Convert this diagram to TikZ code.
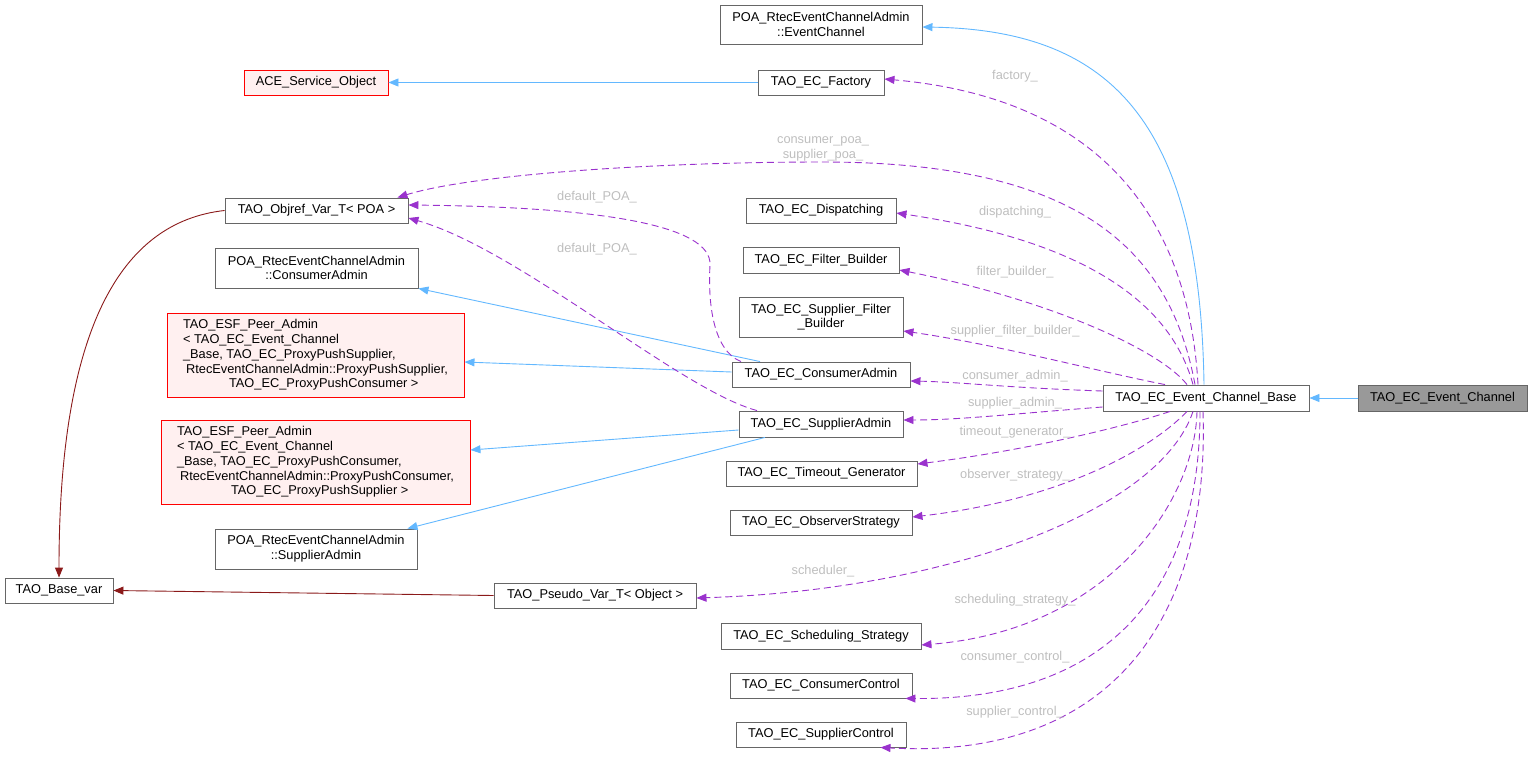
\documentclass[tikz,border=0pt]{standalone}
\usepackage{fontspec}
\setmainfont{Liberation Sans}
\usetikzlibrary{arrows.meta}

\definecolor{boxgray}{HTML}{666666}
\definecolor{redfill}{HTML}{FFF0F0}
\definecolor{curfill}{HTML}{999999}
\definecolor{inhblue}{HTML}{63B8FF}
\definecolor{tplred}{HTML}{8B1A1A}
\definecolor{usepurple}{HTML}{9A32CD}
\definecolor{lblgray}{HTML}{BEBEBE}
\newcommand{\dxsize}{\fontsize{12.8pt}{14.7pt}\selectfont}

\begin{document}
\begin{tikzpicture}[
    x=1pt, y=-1pt,
    cls/.style={rectangle, draw=boxgray, line width=0.9pt, fill=white, font=\dxsize, inner xsep=3pt, inner ysep=2pt, minimum height=25pt, align=center},
    peer/.style={cls, draw=red, fill=redfill, align=left},
    inh/.style={draw=inhblue, line width=0.9pt, -{Triangle[length=10pt,width=8pt]}},
    tpl/.style={draw=tplred, line width=0.9pt, -{Triangle[length=10pt,width=8pt]}},
    use/.style={draw=usepurple, line width=0.9pt, dash pattern=on 7pt off 4pt, -{Triangle[length=10pt,width=8pt]}},
    lbl/.style={font=\dxsize, text=lblgray, align=center}
]
\useasboundingbox (0,0) rectangle (1532,760);

% Class boxes, left column
\node[cls, peer, align=center, minimum width=144pt] (ace) at (316,82.5) {ACE\_Service\_Object};
\node[cls, minimum width=183pt] (objref) at (316.5,210.5) {TAO\_Objref\_Var\_T< POA >};
\node[cls, minimum width=203pt, minimum height=40pt] (pca) at (316.5,268) {POA\_RtecEventChannelAdmin\\::ConsumerAdmin};
\node[peer, minimum width=297pt, minimum height=84pt] (peer1) at (315.5,355) {TAO\_ESF\_Peer\_Admin\\< TAO\_EC\_Event\_Channel\\\_Base, TAO\_EC\_ProxyPushSupplier,\\\hspace*{3pt}RtecEventChannelAdmin::ProxyPushSupplier,\\\hspace*{46pt}TAO\_EC\_ProxyPushConsumer >};
\node[peer, minimum width=309pt, minimum height=84pt] (peer2) at (315.5,462) {TAO\_ESF\_Peer\_Admin\\< TAO\_EC\_Event\_Channel\\\_Base, TAO\_EC\_ProxyPushConsumer,\\\hspace*{3pt}RtecEventChannelAdmin::ProxyPushConsumer,\\\hspace*{54pt}TAO\_EC\_ProxyPushSupplier >};
\node[cls, minimum width=202pt, minimum height=40pt] (psa) at (316,549) {POA\_RtecEventChannelAdmin\\::SupplierAdmin};
\node[cls, minimum width=108pt] (basevar) at (59,590.5) {TAO\_Base\_var};
\node[cls, minimum width=202pt] (pseudo) at (595,595.5) {TAO\_Pseudo\_Var\_T< Object >};

% Class boxes, middle column
\node[cls, minimum width=202pt, minimum height=39pt] (pec) at (821,24.5) {POA\_RtecEventChannelAdmin\\::EventChannel};
\node[cls, minimum width=126pt] (fac) at (821,82.5) {TAO\_EC\_Factory};
\node[cls, minimum width=150pt] (disp) at (821,210.5) {TAO\_EC\_Dispatching};
\node[cls, minimum width=156pt, minimum height=26pt] (fb) at (821,260) {TAO\_EC\_Filter\_Builder};
\node[cls, minimum width=164pt, minimum height=40pt] (sfb) at (821,317) {TAO\_EC\_Supplier\_Filter\\\_Builder};
\node[cls, minimum width=178pt] (cadm) at (821,374.5) {TAO\_EC\_ConsumerAdmin};
\node[cls, minimum width=164pt, minimum height=26pt] (sadm) at (821,424) {TAO\_EC\_SupplierAdmin};
\node[cls, minimum width=191pt] (tg) at (821.5,473.5) {TAO\_EC\_Timeout\_Generator};
\node[cls, minimum width=182pt] (obs) at (821,522.5) {TAO\_EC\_ObserverStrategy};
\node[cls, minimum width=200pt, minimum height=26pt] (sched) at (821,636) {TAO\_EC\_Scheduling\_Strategy};
\node[cls, minimum width=182pt] (cc) at (821,685.5) {TAO\_EC\_ConsumerControl};
\node[cls, minimum width=170pt] (sc) at (821,734.5) {TAO\_EC\_SupplierControl};

% Class boxes, right
\node[cls, minimum width=206pt, minimum height=26pt] (ecb) at (1206,398) {TAO\_EC\_Event\_Channel\_Base};
\node[cls, fill=curfill, minimum width=169pt, minimum height=26pt] (ec) at (1442.5,398) {TAO\_EC\_Event\_Channel};

% Inheritance
\draw[inh] (ec.west) -- (ecb.east);
\draw[inh] ([xshift=-2pt]ecb.north) .. controls (1200,120) and (1110,30) .. ([yshift=-2.5pt]pec.east);
\draw[inh] (fac.west) -- (ace.east);
\draw[inh] ([xshift=-61pt]cadm.north) -- (pca.south east);
\draw[inh] ([yshift=2.5pt]cadm.west) -- ([yshift=-7pt]peer1.east);
\draw[inh] ([yshift=-6pt]sadm.west) -- ([yshift=12pt]peer2.east);
\draw[inh] ([xshift=-56pt]sadm.south) -- ([xshift=-10pt]psa.north east);

% Template instances
\draw[tpl] (objref.west) .. controls (120,222) and (59,330) .. (basevar.north);
\draw[tpl] (pseudo.west) -- (basevar.east);

% Members
\draw[use] ([xshift=-8pt]ecb.north) .. controls (1190,240) and (1120,100) .. ([yshift=3.5pt]fac.east);
\draw[use] ([xshift=-11pt]ecb.north) .. controls (1170,250) and (1080,162) .. (823,162) .. controls (650,162) and (470,175) .. ([xshift=-11pt]objref.north east);
\draw[use] ([xshift=-80pt]cadm.north) .. controls (712,350) and (708,300) .. (710,265) .. controls (712,225) and (600,207) .. ([yshift=5.5pt]objref.east);
\draw[use] ([xshift=-64pt]sadm.north) .. controls (680,390) and (520,250) .. ([yshift=-7.5pt]objref.east);
\draw[use] ([xshift=-13pt]ecb.north) .. controls (1170,300) and (1080,240) .. ([yshift=-2.5pt]disp.east);
\draw[use] ([xshift=-19pt]ecb.north) .. controls (1160,350) and (1050,300) .. ([yshift=-10pt]fb.east);
\draw[use] ([xshift=-41pt]ecb.north) .. controls (1100,372) and (1000,345) .. ([yshift=-14pt]sfb.east);
\draw[use] ([yshift=7pt]ecb.west) .. controls (1010,388) and (960,382) .. ([yshift=-6.5pt]cadm.east);
\draw[use] ([yshift=-9pt]ecb.west) .. controls (1010,414) and (960,420) .. ([yshift=4pt]sadm.east);
\draw[use] ([xshift=-36pt]ecb.south) .. controls (1130,425) and (1030,450) .. ([yshift=9.5pt]tg.east);
\draw[use] ([xshift=-19pt]ecb.south) .. controls (1150,450) and (1060,500) .. ([yshift=5.5pt]obs.east);
\draw[use] ([xshift=-13pt]ecb.south) .. controls (1160,510) and (950,590) .. ([yshift=-2.5pt]pseudo.east);
\draw[use] ([xshift=-9pt]ecb.south) .. controls (1195,500) and (1110,630) .. ([yshift=-9pt]sched.east);
\draw[use] ([xshift=-6pt]ecb.south) .. controls (1200,600) and (1100,700) .. ([xshift=-7pt]cc.south east);
\draw[use] ([xshift=-3pt]ecb.south) .. controls (1210,620) and (1110,760) .. ([xshift=-26pt]sc.south east);

% Member labels
\node[lbl] (lfac) at (1015,76) {factory\_};
\node[lbl] (lpoa) at (823,149) {consumer\_poa\_\\supplier\_poa\_};
\node[lbl] (ldpc) at (597,197) {default\_POA\_};
\node[lbl] (ldps) at (597,249) {default\_POA\_};
\node[lbl] (ldisp) at (1015,212) {dispatching\_};
\node[lbl] (lfb) at (1015,272) {filter\_builder\_};
\node[lbl] (lsfb) at (1015,331) {supplier\_filter\_builder\_};
\node[lbl] (lcadm) at (1015,376) {consumer\_admin\_};
\node[lbl] (lsadm) at (1015,403) {supplier\_admin\_};
\node[lbl] (ltg) at (1015,432) {timeout\_generator\_};
\node[lbl] (lobs) at (1015,475) {observer\_strategy\_};
\node[lbl] (lsch) at (823,571) {scheduler\_};
\node[lbl] (lss) at (1015,600) {scheduling\_strategy\_};
\node[lbl] (lcc) at (1015,657) {consumer\_control\_};
\node[lbl] (lsc) at (1015,712) {supplier\_control\_};

\end{tikzpicture}
\end{document}
